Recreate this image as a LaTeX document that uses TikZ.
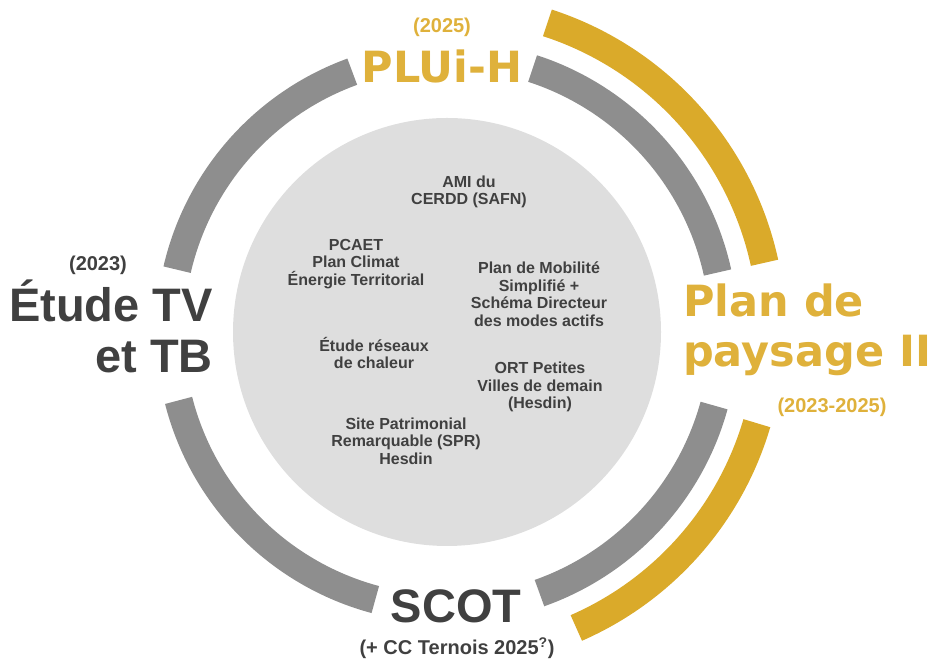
\documentclass[tikz,border=0pt]{standalone}
\usepackage{fontspec}
\setmainfont{Liberation Sans}
\newfontfamily\goldfont{DejaVu Sans}
\usepackage{tikz}
\usetikzlibrary{positioning,calc}

\definecolor{ringgrey}{HTML}{8E8E8E}
\definecolor{ringyellow}{HTML}{DAAA2A}
\definecolor{textyellow}{HTML}{DFB13B}
\definecolor{textdark}{HTML}{404040}
\definecolor{diskgrey}{HTML}{DEDEDE}

\tikzset{
    greyarc/.style={draw=ringgrey, line width=28pt},
    goldarc/.style={draw=ringyellow, line width=28pt},
    innerlabel/.style={inner sep=0pt, align=center, text=textdark,
        font=\fontsize{16}{17.5}\selectfont\bfseries},
    yearlabel/.style={inner sep=0pt, font=\fontsize{20}{24}\selectfont\bfseries},
    darktitle/.style={inner sep=0pt, text=textdark,
        font=\fontsize{47}{51}\selectfont\bfseries},
    goldtitle/.style={inner sep=0pt, text=textyellow,
        font=\goldfont\fontsize{43}{50}\selectfont\bfseries}
}

\begin{document}
\begin{tikzpicture}[x=1pt, y=1pt]
            \useasboundingbox (0,0) rectangle (941,660);
            \coordinate (c) at (447,328);

            % Draw the inner disk
            \fill[diskgrey] (c) circle[radius=214pt];

            % Draw the grey ring, four pieces
            \draw[greyarc] ($(c)+(110:277pt)$) arc[start angle=110, end angle=167, radius=277pt];
            \draw[greyarc] ($(c)+(12.4:277pt)$) arc[start angle=12.4, end angle=72, radius=277pt];
            \draw[greyarc] ($(c)+(-70.5:277pt)$) arc[start angle=-70.5, end angle=-15.4, radius=277pt];
            \draw[greyarc] ($(c)+(194.3:277pt)$) arc[start angle=194.3, end angle=255, radius=277pt];

            % Draw the two gold pieces outside
            \draw[goldarc] ($(c)+(12.3:325pt)$) arc[start angle=12.3, end angle=72, radius=325pt];
            \draw[goldarc] ($(c)+(-66.4:323pt)$) arc[start angle=-66.4, end angle=-16.4, radius=323pt];

            % Projects inside the disk
            \node[innerlabel] (amicerdd) at (469,468) {AMI du\\CERDD (SAFN)};
            \node[innerlabel] (pcaet) at (356,396) {PCAET\\Plan Climat\\Énergie Territorial};
            \node[innerlabel] (mobilite) at (539,366) {Plan de Mobilité\\Simplifié +\\Schéma Directeur\\des modes actifs};
            \node[innerlabel] (reseaux) at (374,307) {Étude réseaux\\de chaleur};
            \node[innerlabel] (ort) at (540,273) {ORT Petites\\Villes de demain\\(Hesdin)};
            \node[innerlabel] (spr) at (406,219) {Site Patrimonial\\Remarquable (SPR)\\Hesdin};

            % Labels round the ring
            \node[yearlabel, text=textyellow] (pluiyear) at (442,633) {(2025)};
            \node[goldtitle] (plui) at (442,594) {PLUi-H};
            \node[goldtitle, align=left, anchor=west] (paysage) at (683,330) {Plan de\\paysage II};
            \node[yearlabel, text=textyellow] (paysageyear) at (832,253) {(2023-2025)};
            \node[yearlabel, text=textdark] (etudeyear) at (98,395) {(2023)};
            \node[darktitle, align=right, anchor=east] (etude) at (213,334) {Étude TV\\et TB};
            \node[darktitle] (scot) at (456,54) {SCOT};
            \node[yearlabel, text=textdark] (ternois) at (457,12) {(+ CC Ternois 2025\textsuperscript{?})};
        \end{tikzpicture}
\end{document}
